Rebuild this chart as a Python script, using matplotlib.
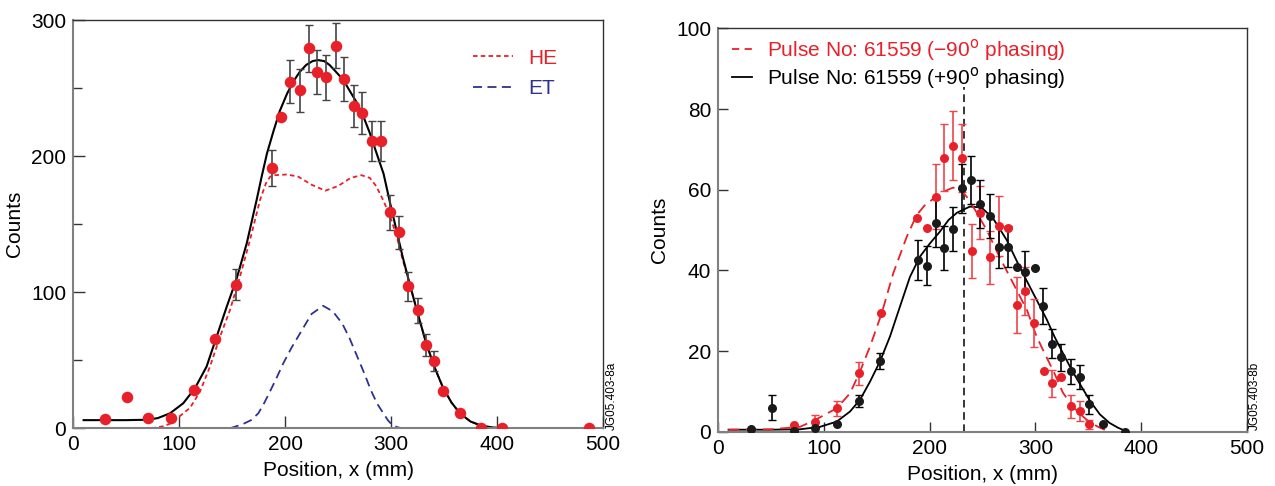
import numpy as np
import matplotlib
matplotlib.use('Agg')
import matplotlib.pyplot as plt
from matplotlib.lines import Line2D

plt.rcParams['font.family'] = ['Liberation Sans', 'DejaVu Sans']
plt.rcParams['font.size'] = 15

RED = '#e8202a'
NAVY = '#2e3192'

# --- panel a: neutron camera profile with HE / ET components ---
xa = [30, 51, 71, 92, 114, 134, 154, 188, 196, 205, 214, 223, 230, 239, 248,
      256, 265, 273, 282, 291, 299, 307.5, 316, 325, 333, 341, 349, 365, 385, 405, 487]
ya = [6.6, 23, 7.8, 7.8, 28, 65.5, 105.6, 191, 229, 254.7, 248.3, 279.2, 262, 257.9, 281.1,
      256.6, 236.6, 231.7, 210.9, 210.9, 158.7, 144, 104.2, 86.6, 61.1, 49.6, 27.6, 11.5, 0, 0, 0]
ea = [0, 0, 0, 0, 0, 0, 11.2, 13.2, 0, 15.9, 15.8, 17.1, 16.2, 16.3, 16.7,
      16, 15.5, 15.5, 14.6, 14.6, 12.7, 12.2, 10.4, 9, 8, 7.5, 0, 0, 0, 0, 0]

# total fit
fit_x = [10, 30, 50, 70, 80, 91.5, 104, 115, 126, 135.5, 145, 154.4, 163.9, 173.3,
         178, 183, 189, 195, 202, 208, 214, 220, 226, 231, 237, 242, 248, 255, 261,
         268, 274, 280, 286, 293, 299, 305, 311, 318, 325, 333, 341, 349, 357, 365, 375,
         385, 395, 402]
fit_y = [6, 6, 6, 6.3, 7.5, 11, 18.4, 29.4, 45.3, 67.3, 89.3, 110, 135.9, 168,
         185, 202, 218, 233, 246, 255, 262, 267, 269.8, 270.6, 269.8, 267, 262, 256, 248,
         239, 229, 217, 203, 187, 166, 146, 126, 105, 85, 63, 45, 30, 19, 11, 5,
         2, 0.7, 0.3]
# HE component
he_x = [74, 85, 92, 97.8, 104, 110.4, 119.8, 129.2, 138.7, 148.1, 157.5, 167, 176.4,
        182, 186, 190, 202, 212.5, 225, 238, 250, 262, 272, 280, 286, 293, 299, 305,
        311, 318, 325, 333, 341, 349, 357, 365, 375, 385, 395, 400]
he_y = [0, 1.5, 3.5, 7, 11, 15, 26.9, 45.3, 67.3, 86.9, 111.4, 138.4, 167.7,
        180, 184.9, 186, 186.5, 184.9, 179, 174.6, 178, 184, 186, 184, 178, 167, 156, 142,
        124, 105, 85, 63, 45, 30, 19, 11, 5, 2, 0.7, 0.3]
# ET component
et_x = [148, 160, 168, 174.8, 180, 185.8, 192, 198.4, 206, 214.2, 225, 236, 245, 254, 261,
        268, 275, 281, 287, 292, 297, 301, 306, 311]
et_y = [0, 3, 6, 11, 18, 27, 37, 47.8, 59, 69.8, 84, 90, 86, 77, 66,
        53, 40, 28, 18, 12, 6, 2.5, 0.8, 0]

# --- panel b: two phasings ---
xr = [71.5, 92, 112.7, 133.3, 154, 187.8, 197.2, 205.7, 213.9, 222.4, 230.9, 239.8, 247.9,
      256.8, 265.3, 273.8, 282.3, 290.5, 298.7, 307.9, 316.2, 324.7, 333.3, 341.9, 350.5]
yr = [1.7, 2.5, 5.8, 14.5, 29.4, 53.1, 50.4, 58.3, 67.9, 70.9, 67.8, 44.8, 54.3,
      43.2, 51.0, 50.6, 31.4, 34.9, 26.9, 15.0, 12.0, 13.5, 6.3, 5.2, 1.8]
er = [0, 1.6, 1.8, 2.8, 0, 0, 0, 8.0, 8.3, 8.6, 8.4, 6.8, 6.6,
      6.6, 7.5, 0, 6.9, 6.0, 6.0, 0, 3.3, 0, 2.9, 2.5, 1.2]

xb = [30.9, 50.9, 71.5, 92, 112.7, 133, 153.6, 188.7, 197.2, 205.7, 213.9, 222.4, 230.9,
      239.4, 247.9, 256.8, 265.3, 273.8, 282.3, 290.5, 299.6, 307.5, 316.2, 324.7, 333.3,
      341.9, 350.5, 364.3, 384.9]
yb = [0.7, 6.0, 0.3, 0.8, 1.8, 7.6, 17.6, 42.6, 41.2, 51.7, 45.6, 50.2, 60.3,
      62.4, 56.4, 53.5, 45.9, 45.9, 40.9, 39.7, 40.7, 31.2, 21.8, 18.4, 15.0,
      13.5, 6.8, 1.8, 0]
eb = [0, 3.2, 0, 0, 0, 1.5, 2.0, 4.9, 4.9, 6.0, 5.5, 5.4, 6.1,
      5.9, 6.0, 5.5, 5.2, 5.0, 0, 5.2, 0, 4.5, 3.6, 3.3, 3.1,
      3.0, 2.4, 0, 0]

minus_x = [10, 50, 77.5, 91.7, 112.2, 124.8, 134.2, 143.7, 154.7, 165.7, 178.4, 187.8,
           196, 205, 214, 222, 228, 235, 243, 254, 266, 279, 292, 301, 309, 318, 326,
           335, 344, 352, 361, 367]
minus_y = [0.5, 0.6, 1.2, 2.9, 5.8, 9.5, 14.9, 21.1, 29.3, 39.3, 48.3, 53.7,
           56.3, 58, 59.6, 60.5, 60.3, 58.3, 55, 50, 43.4, 36.8, 30.2, 23.7, 19.3, 14.5, 9.7,
           6.3, 4.0, 2.2, 1.0, 0.3]
plus_x = [10, 50, 77.5, 96.4, 112.2, 124.8, 134.2, 143.7, 153.1, 162.6, 172, 181.5,
          190.9, 200.4, 209.8, 218, 226, 238, 249, 260, 273, 285, 298, 311, 318, 326,
          335, 344, 352, 361, 370, 378, 387]
plus_y = [0.5, 0.5, 0.6, 1.2, 2.5, 5, 7.9, 12.4, 17.4, 23.6, 31, 38.4,
          43.4, 46.7, 49.6, 52.5, 54.3, 55.8, 55.6, 52.9, 47.5, 40.9, 34.3, 27.7, 23.6, 19.5,
          15, 11, 7.5, 4.3, 2.2, 1, 0]

centre_x = 233
centre_top = 85.5


def style_axes(ax, major_len, minor_len=None):
    for side in ('left', 'bottom'):
        ax.spines[side].set_color('#808080')
        ax.spines[side].set_linewidth(1.5)
    for side in ('top', 'right'):
        ax.spines[side].set_color('#333333')
        ax.spines[side].set_linewidth(1.0)
    ax.tick_params(which='major', direction='in', length=major_len, width=1,
                   color='#333333', labelsize=15, pad=5)
    if minor_len:
        ax.tick_params(which='minor', direction='in', length=minor_len, width=1,
                       color='#333333')


def draw_points(ax, x, y, e, fc, ecol, ms):
    x, y, e = np.array(x), np.array(y), np.array(e)
    m = e > 0
    ax.errorbar(x[m], y[m], yerr=e[m], fmt='none', ecolor=ecol, elinewidth=1.2,
                capsize=3, capthick=1, zorder=3)
    ax.plot(x, y, 'o', color=fc, ms=ms, mec='none', zorder=4)


fig = plt.figure(figsize=(12.75, 4.86), dpi=100)

# left panel
ax1 = fig.add_axes([0.05725, 0.1187, 0.4157, 0.8401])
ax1.plot(et_x, et_y, color=NAVY, lw=1.3, dashes=(5, 3), zorder=2)
ax1.plot(he_x, he_y, color=RED, lw=1.3, dashes=(2.5, 1.8), zorder=2)
ax1.plot(fit_x, fit_y, color='black', lw=1.5, zorder=2)
draw_points(ax1, xa, ya, ea, RED, '#444444', 8.3)
ax1.set_xlim(0, 500)
ax1.set_ylim(0, 300)
ax1.set_xticks(np.arange(0, 501, 100))
ax1.set_yticks(np.arange(0, 301, 100))
ax1.set_yticks([50, 150, 250], minor=True)
style_axes(ax1, 8.5, 6.5)
ax1.set_xlabel('Position, x (mm)', labelpad=5)
ax1.set_ylabel('Counts', labelpad=5)
h1 = [Line2D([], [], color=RED, lw=1.3, dashes=(2.5, 1.8)),
      Line2D([], [], color=NAVY, lw=1.3, dashes=(5, 3))]
ax1.legend(h1, ['HE', 'ET'], loc='upper left', bbox_to_anchor=(0.755, 0.93),
           frameon=False, handlelength=1.9, handletextpad=0.75, labelspacing=0.55,
           labelcolor=[RED, NAVY], fontsize=15, borderpad=0, borderaxespad=0)

# right panel
ax2 = fig.add_axes([0.5631, 0.1117, 0.4149, 0.8300])
ax2.vlines(centre_x, 0, centre_top, colors='black', lw=1.1, linestyles=(0, (5, 3)),
           zorder=2)
ax2.plot(plus_x, plus_y, color='black', lw=1.3, zorder=2)
ax2.plot(minus_x, minus_y, color=RED, lw=1.3, dashes=(6, 3.5), zorder=2)
draw_points(ax2, xr, yr, er, RED, '#f0444c', 6.5)
draw_points(ax2, xb, yb, eb, '#1a1a1a', 'black', 6.5)
ax2.set_xlim(0, 500)
ax2.set_ylim(0, 100)
ax2.set_xticks(np.arange(0, 501, 100))
ax2.set_yticks(np.arange(0, 101, 20))
style_axes(ax2, 7)
ax2.set_xlabel('Position, x (mm)', labelpad=5)
ax2.set_ylabel('Counts', labelpad=5)
h2 = [Line2D([], [], color=RED, lw=1.3, dashes=(4, 3)),
      Line2D([], [], color='black', lw=1.3)]
ax2.legend(h2, ['Pulse No: 61559 (\u221290$^{\\rm o}$ phasing)',
                'Pulse No: 61559 (+90$^{\\rm o}$ phasing)'],
           loc='upper left', bbox_to_anchor=(0.0265, 0.978), frameon=False,
           handlelength=0.96, handletextpad=0.72, labelspacing=0.1,
           labelcolor=[RED, 'black'], fontsize=15, borderpad=0, borderaxespad=0)

fig.text(0.4798, 0.115, 'JG05.403-8a', rotation=90, ha='center', va='bottom', fontsize=8.5)
fig.text(0.9843, 0.115, 'JG05.403-8b', rotation=90, ha='center', va='bottom', fontsize=8.5)

fig.savefig('out.png', dpi=100)
